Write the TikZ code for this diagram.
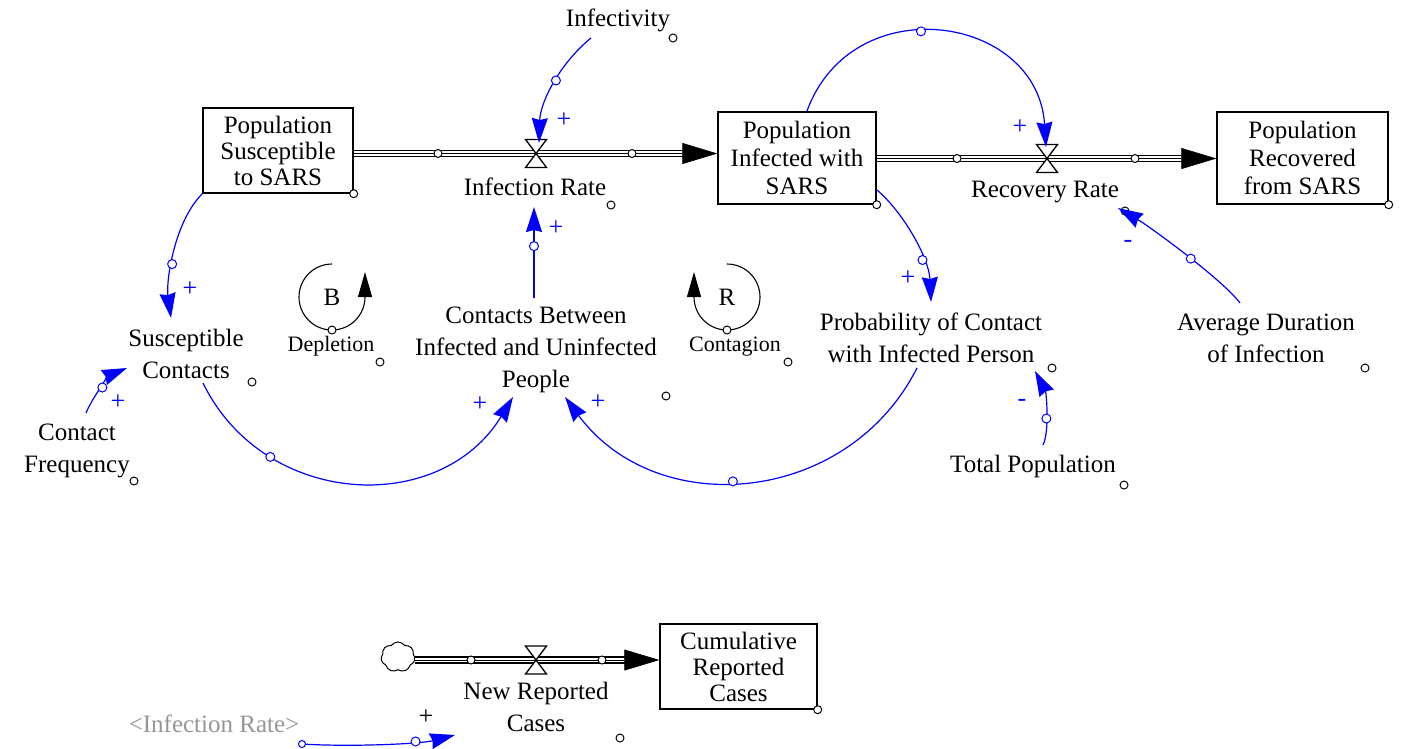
\documentclass[tikz,border=0pt]{standalone}
\usepackage{fontspec}
\setmainfont{Liberation Serif}
\usetikzlibrary{arrows.meta,shapes.symbols}
\definecolor{vblue}{RGB}{0,0,255}
\definecolor{vgray}{RGB}{150,150,150}
\begin{document}
\begin{tikzpicture}[x=1pt,y=-1pt,
  txt/.style={font=\fontsize{25}{32}\selectfont, align=center, inner sep=0pt},
  smalltxt/.style={font=\fontsize{22}{22}\selectfont, inner sep=0pt},
  stock/.style={draw, line width=1.4pt, font=\fontsize{25}{26}\selectfont, align=center, inner sep=0pt, fill=white},
  link/.style={draw=vblue, line width=1.2pt, -{Stealth[length=25pt,width=16pt,inset=2pt]}},
  lcirc/.style={circle, draw=vblue, fill=white, line width=1pt, minimum size=9pt, inner sep=0pt},
  ccirc/.style={circle, draw=black, fill=white, line width=1pt, minimum size=8pt, inner sep=0pt},
  pipe/.style={double distance=4.4pt, line width=1.4pt, draw=black},
  pipehead/.style={line width=0.5pt, -{Triangle[length=35pt,width=21pt]}},
  valve/.style={draw=black, fill=white, line width=1.3pt},
  pol/.style={text=vblue, font=\fontsize{26}{26}\selectfont, inner sep=0pt},
  loopar/.style={draw=black, line width=1.1pt, -{Triangle[length=25pt,width=14pt]}}
]
\fill[white] (0,0) rectangle (1404,748);
\useasboundingbox (0,0) rectangle (1404,748);

% stocks
\node[stock, minimum width=150pt, minimum height=85pt] (sus) at (278,150.5) {Population\\Susceptible\\to SARS};
\node[stock, minimum width=158pt, minimum height=92pt, font=\fontsize{25}{28}\selectfont] (inf) at (797,158) {Population\\Infected with\\SARS};
\node[stock, minimum width=171pt, minimum height=92pt, font=\fontsize{25}{28}\selectfont] (rec) at (1302.5,158) {Population\\Recovered\\from SARS};
\node[stock, minimum width=157pt, minimum height=85pt] (cum) at (738.5,666.5) {Cumulative\\Reported\\Cases};

% valves and source
\coordinate (v1) at (536,153.5);
\coordinate (v2) at (1047,158.5);
\coordinate (v3) at (536,660);
\node[cloud, cloud puffs=7, cloud puff arc=110, draw, line width=1pt, minimum width=34pt, minimum height=30pt, inner sep=0pt, fill=white] (src) at (398,657) {};

% auxiliaries
\node[txt] (infectivity) at (618,20) {Infectivity};
\node[txt] (infrate) at (535,187) {Infection Rate};
\node[txt] (recrate) at (1045,192) {Recovery Rate};
\node[txt] (suscon) at (186,354) {Susceptible\\Contacts};
\node[txt] (confreq) at (77,451) {Contact\\Frequency};
\node[txt] (contacts) at (536,350) {Contacts Between\\Infected and Uninfected\\People};
\node[txt] (prob) at (931,338) {Probability of Contact\\with Infected Person};
\node[txt] (avgdur) at (1266,338) {Average Duration\\of Infection};
\node[txt] (totpop) at (1033,466) {Total Population};
\node[txt] (newrep) at (536,707) {New Reported\\Cases};
\node[txt, text=vgray] (irshadow) at (214,724) {<Infection Rate>};

% pipes
\draw[pipe, shorten >=30pt] (sus.east |- v1) -- (inf.west |- v1);
\draw[pipehead] (sus.east |- v1) -- (inf.west |- v1);
\draw[pipe, shorten >=30pt] (inf.east |- v2) -- (rec.west |- v2);
\draw[pipehead] (inf.east |- v2) -- (rec.west |- v2);
\draw[pipe, shorten >=30pt] (src.east |- v3) -- (cum.west |- v3);
\draw[pipehead] (src.east |- v3) -- (cum.west |- v3);
\draw[valve, shift={(v1)}] (-10.5,-14) -- (10.5,-14) -- (-10.5,14) -- (10.5,14) -- cycle;
\draw[valve, shift={(v2)}] (-10.5,-14) -- (10.5,-14) -- (-10.5,14) -- (10.5,14) -- cycle;
\draw[valve, shift={(v3)}] (-10.5,-14) -- (10.5,-14) -- (-10.5,14) -- (10.5,14) -- cycle;
\node[ccirc] (p1) at (438,153.5) {};
\node[ccirc] (p2) at (632,153.5) {};
\node[ccirc] (p3) at (957,158.5) {};
\node[ccirc] (p4) at (1135,158.5) {};
\node[ccirc] (p5) at (471,660) {};
\node[ccirc] (p6) at (602,660) {};

% corner circles
\node[ccirc] (c1) at (sus.south east) {};
\node[ccirc] (c2) at (inf.south east) {};
\node[ccirc] (c3) at (rec.south east) {};
\node[ccirc] (c4) at (cum.south east) {};
\node[ccirc] (c5) at (673,38) {};
\node[ccirc] (c6) at (611,205) {};
\node[ccirc] (c7) at (1125,211) {};
\node[ccirc] (c8) at (252,382) {};
\node[ccirc] (c9) at (134,481) {};
\node[ccirc] (c10) at (666,396) {};
\node[ccirc] (c11) at (1052,368) {};
\node[ccirc] (c12) at (1365,368) {};
\node[ccirc] (c13) at (1124,485) {};
\node[ccirc] (c14) at (620,738) {};
\node[ccirc] (c15) at (380,362) {};
\node[ccirc] (c16) at (788,362) {};

% loops
\node[font=\fontsize{25}{25}\selectfont, inner sep=0pt] (B) at (332,297) {B};
\node[font=\fontsize{25}{25}\selectfont, inner sep=0pt] (R) at (727,297) {R};
\draw[loopar] ([shift={(0,-33)}]B.center) arc[start angle=270, end angle=0, radius=33] -- ++(0,-25);
\draw[loopar] ([shift={(0,-33)}]R.center) arc[start angle=-90, end angle=180, radius=33] -- ++(0,-25);
\node[ccirc] (lb) at ([shift={(0,33)}]B.center) {};
\node[ccirc] (lr) at ([shift={(0,33)}]R.center) {};
\node[smalltxt] (depl) at (331,346) {Depletion};
\node[smalltxt] (contag) at (735,347) {Contagion};

% links
\draw[link] ([shift={(-27,18)}]infectivity.center) .. controls (559.6,63.6) and (540.3,102) .. ([shift={(3,-10.5)}]v1) node[pos=0.46, lcirc] {};
\draw[link] ([shift={(-2,-52)}]contacts.center) -- ([shift={(-1,20)}]infrate.center) node[pos=0.57, lcirc] {};
\draw[link] ([shift={(10,-47)}]inf.center) .. controls (852,-12.6) and (1037.5,14) .. ([shift={(-1,-11.5)}]v2) node[pos=0.44, lcirc] {};
\draw[link] ([shift={(80,32)}]inf.center) .. controls (903,212) and (929,258) .. ([shift={(0,-36)}]prob.center) node[pos=0.68, lcirc] {};
\draw[link] ([shift={(-26,-35)}]avgdur.center) .. controls (1222,279) and (1148,225.5) .. ([shift={(73,16)}]recrate.center) node[pos=0.45, lcirc] {};
\draw[link] ([shift={(10,-21)}]totpop.center) .. controls (1050,430) and (1046,392) .. ([shift={(104,33)}]prob.center) node[pos=0.4, lcirc] {};
\draw[link] (sus.south west) .. controls (174,222) and (166,282) .. ([shift={(-15,-36)}]suscon.center) node[pos=0.58, lcirc] {};
\draw[link] ([shift={(9,-38)}]confreq.center) .. controls (92,398) and (110,375) .. ([shift={(-59,14)}]suscon.center) node[pos=0.5, lcirc] {};
\draw[link] ([shift={(17,29)}]suscon.center) .. controls (264.5,508.5) and (440.4,516.4) .. ([shift={(-23,47)}]contacts.center) node[pos=0.26, lcirc] {};
\draw[link] ([shift={(-14,30)}]prob.center) .. controls (847.2,505.6) and (656.6,521.2) .. ([shift={(29,47)}]contacts.center) node[pos=0.54, lcirc] {};
\draw[link] ([shift={(88,20)}]irshadow.center) .. controls (350,747) and (420,744) .. ([shift={(-81,28)}]newrep.center) node[pos=0, lcirc, minimum size=7pt] {} node[pos=0.7, lcirc] {};

% polarities
\node[pol] (s1) at (564,120) {+};
\node[pol] (s2) at (556,228) {+};
\node[pol] (s3) at (1020,127) {+};
\node[pol] (s4) at (908,278) {+};
\node[pol] (s5) at (1128,244) {-};
\node[pol] (s6) at (1022,403) {-};
\node[pol] (s7) at (190,289) {+};
\node[pol] (s8) at (118,402) {+};
\node[pol] (s9) at (480,404) {+};
\node[pol] (s10) at (598,402) {+};
\node[pol, text=black] (s11) at (426,717) {+};
\end{tikzpicture}
\end{document}
